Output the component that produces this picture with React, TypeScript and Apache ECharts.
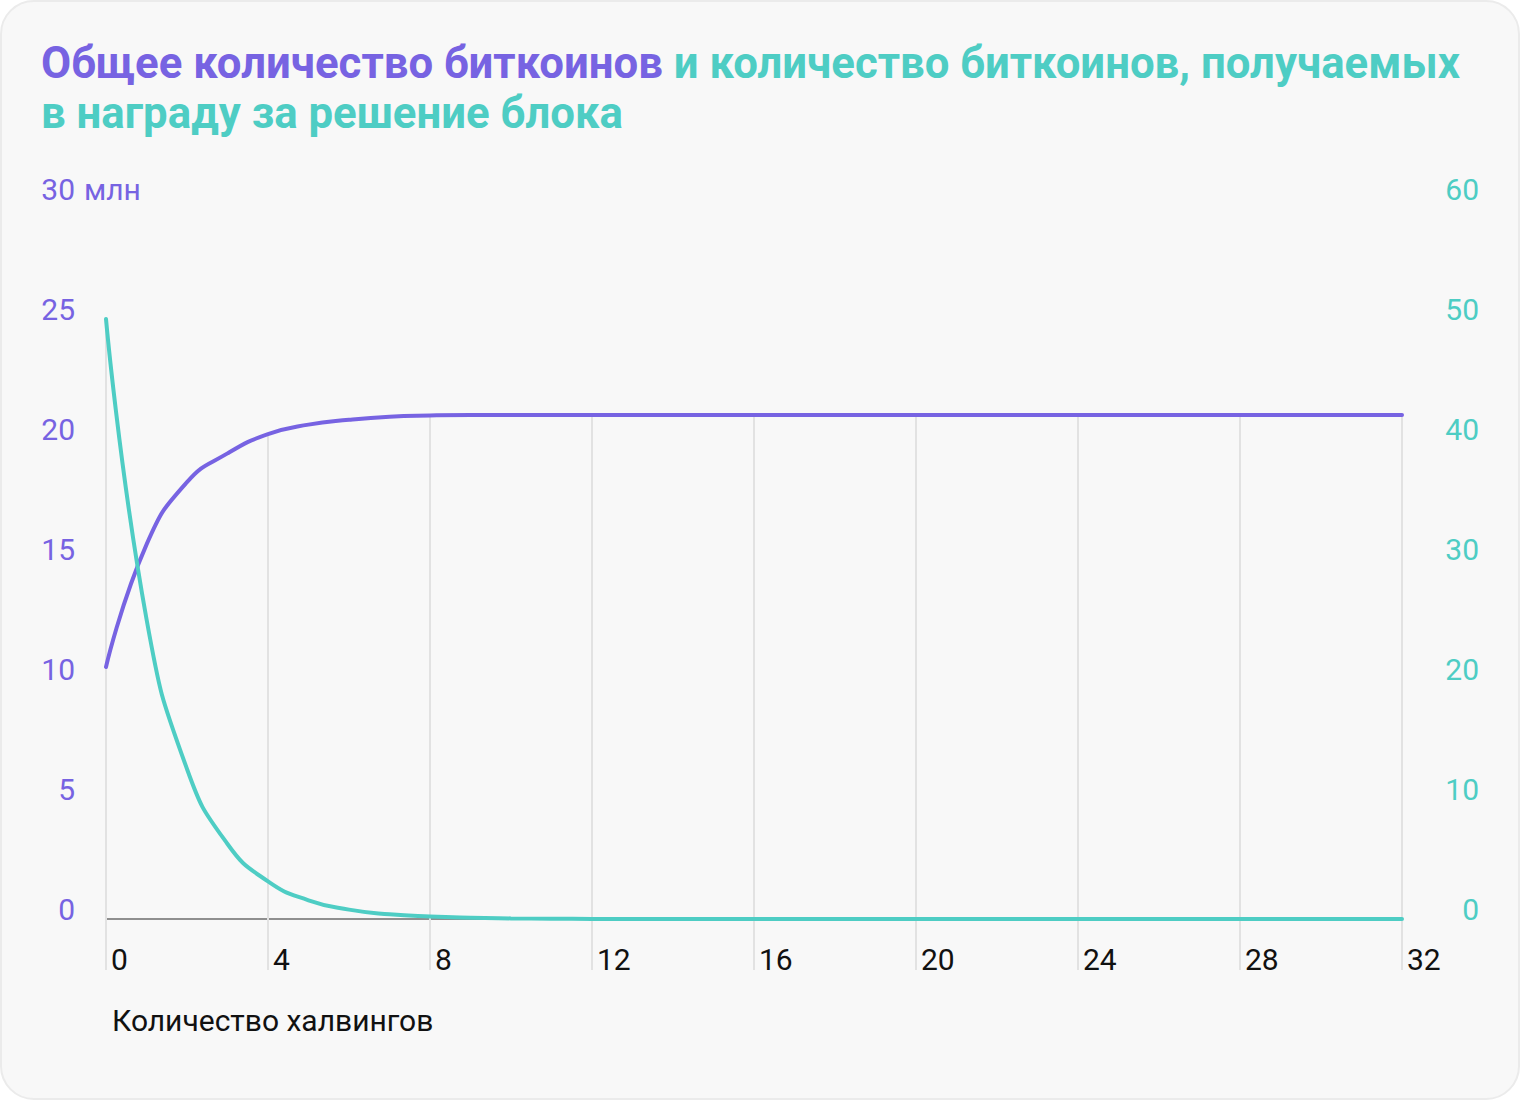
import React, { useEffect, useRef } from "react";
import * as echarts from "echarts";

// Number of halvings (x axis)
const halvings: number[] = [
  0, 1, 2, 3, 4, 5, 6, 7, 8, 9, 10, 11, 12, 13, 14, 15, 16,
  17, 18, 19, 20, 21, 22, 23, 24, 25, 26, 27, 28, 29, 30, 31, 32,
];
// Total bitcoins, millions (left axis)
const totalSupplyMln: number[] = [
  10.5, 15.6, 18.2, 19.4, 20.2, 20.6, 20.8, 20.93, 20.98, 21.0, 21.0,
  21.0, 21.0, 21.0, 21.0, 21.0, 21.0, 21.0, 21.0, 21.0, 21.0, 21.0, 21.0, 21.0,
  21.0, 21.0, 21.0, 21.0, 21.0, 21.0, 21.0, 21.0, 21.0,
];
// Block reward, BTC (right axis)
const blockReward: number[] = [
  50, 25, 12.5, 6.25, 3.13, 1.56, 0.78, 0.39, 0.2, 0.1, 0.05, 0.02, 0.01,
  0.01, 0, 0, 0, 0, 0, 0, 0, 0, 0, 0, 0, 0, 0, 0, 0, 0, 0, 0, 0,
];
const xTicks: number[] = [0, 4, 8, 12, 16, 20, 24, 28, 32];
const leftTicks: number[] = [0, 5, 10, 15, 20, 25, 30];
const rightTicks: number[] = [0, 10, 20, 30, 40, 50, 60];

const PURPLE = "#7763e2";
const TEAL = "#4ecdc4";
const FONT = "Roboto, 'Noto Sans', sans-serif";

export default function App() {
  const ref = useRef<HTMLDivElement>(null);

  useEffect(() => {
    document.body.style.margin = "0";
    if (!ref.current) return;
    const chart = echarts.init(ref.current, null, { renderer: "svg" });

    const leftMax = leftTicks[leftTicks.length - 1];
    const rightMax = rightTicks[rightTicks.length - 1];
    const ratio = rightMax / leftMax;
    const dropData = xTicks.map((x) => {
      const i = halvings.indexOf(x);
      return [x, Math.max(totalSupplyMln[i], blockReward[i] / ratio)];
    });

    chart.setOption({
      animation: false,
      backgroundColor: "transparent",
      textStyle: { fontFamily: FONT },
      title: {
        left: 36,
        top: 33,
        text:
          "{a|Общее количество биткоинов}{b|\u00a0и количество биткоинов, получаемых}\n{b|в награду за решение блока}",
        textStyle: {
          rich: {
            a: { fontSize: 43.75, fontWeight: 700, color: PURPLE, fontFamily: FONT, lineHeight: 50 },
            b: { fontSize: 43.75, fontWeight: 700, color: TEAL, fontFamily: FONT, lineHeight: 50 },
          },
        },
      },
      grid: { left: 106, right: 118, top: 199, bottom: 181, containLabel: false },
      xAxis: {
        type: "value",
        min: 0,
        max: 32,
        interval: 4,
        axisLine: { show: true, onZero: false, lineStyle: { color: "#8f8f8f", width: 2 } },
        axisTick: { show: false },
        splitLine: { show: false },
        axisLabel: {
          show: true,
          align: "left",
          padding: [0, 0, 0, 5],
          margin: 25,
          fontSize: 30,
          color: "#111111",
          fontFamily: FONT,
        },
      },
      yAxis: [
        {
          type: "value",
          min: 0,
          max: leftMax,
          interval: 5,
          position: "left",
          axisLine: { show: false },
          axisTick: { show: false },
          splitLine: { show: false },
          axisLabel: {
            margin: 31,
            align: "right",
            verticalAlign: "bottom",
            lineHeight: 20,
            fontSize: 30,
            color: PURPLE,
            fontFamily: FONT,
          },
        },
        {
          type: "value",
          min: 0,
          max: rightMax,
          interval: 10,
          position: "right",
          axisLine: { show: false },
          axisTick: { show: false },
          splitLine: { show: false },
          axisLabel: {
            margin: 77,
            align: "right",
            verticalAlign: "bottom",
            lineHeight: 20,
            fontSize: 30,
            color: TEAL,
            fontFamily: FONT,
          },
        },
      ],
      graphic: [
        {
          type: "text",
          x: 84,
          y: 189,
          style: { text: "млн", fontSize: 30, fill: PURPLE, fontFamily: FONT, verticalAlign: "middle", align: "left" },
        },
        {
          type: "text",
          x: 112,
          y: 1020,
          style: { text: "Количество халвингов", fontSize: 30, fill: "#111111", fontFamily: FONT, verticalAlign: "middle", align: "left" },
        },
      ],
      series: [
        {
          type: "custom",
          yAxisIndex: 0,
          clip: false,
          z: 1,
          silent: true,
          data: dropData,
          renderItem: (params: any, api: any) => {
            const top = api.coord([api.value(0), api.value(1)]);
            const base = api.coord([api.value(0), 0]);
            return {
              type: "line",
              shape: { x1: top[0], y1: top[1], x2: top[0], y2: base[1] + 51 },
              style: { stroke: "#e2e2e2", lineWidth: 2 },
            };
          },
        },
        {
          type: "line",
          name: "Общее количество биткоинов",
          yAxisIndex: 0,
          smooth: 0.5,
          showSymbol: false,
          z: 3,
          lineStyle: { color: PURPLE, width: 4, cap: "round" },
          itemStyle: { color: PURPLE },
          data: halvings.map((x, i) => [x, totalSupplyMln[i]]),
        },
        {
          type: "line",
          name: "Награда за блок",
          yAxisIndex: 1,
          smooth: 0.5,
          showSymbol: false,
          z: 4,
          lineStyle: { color: TEAL, width: 4, cap: "round" },
          itemStyle: { color: TEAL },
          data: halvings.map((x, i) => [x, blockReward[i]]),
        },
      ],
    });

    return () => chart.dispose();
  }, []);

  return (
    <div style={{ position: "relative", width: 1520, height: 1100 }}>
      <div
        style={{
          position: "absolute",
          left: 0,
          top: 0,
          width: 1520,
          height: 1100,
          boxSizing: "border-box",
          background: "#f8f8f8",
          border: "2px solid #ebebeb",
          borderRadius: 34,
        }}
      />
      <div ref={ref} style={{ position: "absolute", left: 0, top: 0, width: 1520, height: 1100 }} />
    </div>
  );
}
